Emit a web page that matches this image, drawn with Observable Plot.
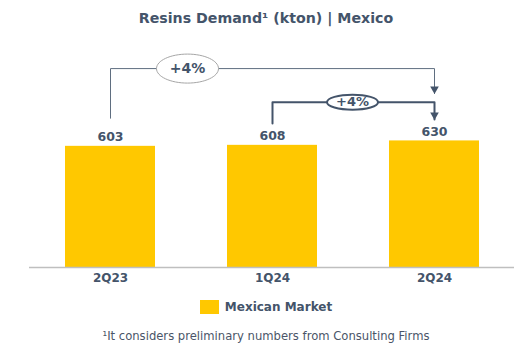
<!DOCTYPE html>
<html><head><meta charset="utf-8">
<script src="https://cdn.jsdelivr.net/npm/d3@7"></script>
<script src="https://cdn.jsdelivr.net/npm/@observablehq/plot@0.6"></script>
<style>
body{margin:0;background:#fff;width:532px;height:362px;position:relative;overflow:hidden;font-family:"DejaVu Sans",Verdana,sans-serif;color:#44546a}
#title{position:absolute;top:9px;left:0;width:532px;text-align:center;font-weight:bold;font-size:14.2px;line-height:18px}
#chart{position:absolute;top:30px;left:0}
#legend{position:absolute;top:299px;left:0;width:532px;display:flex;justify-content:center;align-items:center;font-weight:bold;font-size:12px;line-height:16px}
#legend .sw{width:19px;height:14px;background:#FFC800;margin-right:6px}
#note{position:absolute;top:327px;left:0;width:532px;text-align:center;font-size:11.6px;line-height:18px;color:#4a5568}
</style>
</head><body>
<div id="title">Resins Demand¹ (kton) | Mexico</div>
<div id="chart"></div>
<div id="legend"></div>
<div id="note">¹It considers preliminary numbers from Consulting Firms</div>
<script>
// Data
const categories = ["2Q23", "1Q24", "2Q24"];
const values = [603, 608, 630];
const seriesName = "Mexican Market";
// Growth annotations (from -> to), labels, and bracket heights in kton units
const changeFrom = ["2Q23", "1Q24"];
const changeTo = ["2Q24", "2Q24"];
const changeLabels = ["+4%", "+4%"];
const bracketStart = [743, 717];
const bracketLevel = [990, 823];
const bracketTip = [866, 737];

const data = categories.map((c, i) => ({cat: c, value: values[i]}));

function ellipse(rx, ry) {
  const k = 0.5523;
  return {draw(ctx) {
    ctx.moveTo(rx, 0);
    ctx.bezierCurveTo(rx, ry * k, rx * k, ry, 0, ry);
    ctx.bezierCurveTo(-rx * k, ry, -rx, ry * k, -rx, 0);
    ctx.bezierCurveTo(-rx, -ry * k, -rx * k, -ry, 0, -ry);
    ctx.bezierCurveTo(rx * k, -ry, rx, -ry * k, rx, 0);
    ctx.closePath();
  }};
}

const paths = changeFrom.map((f, i) => [
  {x: f, y: bracketStart[i]},
  {x: f, y: bracketLevel[i]},
  {x: changeTo[i], y: bracketLevel[i]},
  {x: changeTo[i], y: bracketTip[i]}
]);
const lineStyles = [
  {stroke: "#5f6e80", strokeWidth: 1},
  {stroke: "#44546a", strokeWidth: 2}
];
const ellStyles = [
  {sym: ellipse(31, 14.5), stroke: "#a6a6a6", strokeWidth: 1, dx: 77, fs: 14},
  {sym: ellipse(25.5, 7.5), stroke: "#44546a", strokeWidth: 2, dx: 80, fs: 13}
];

const marks = [
  Plot.barY(data, {x: "cat", y: "value", fill: "#FFC800"}),
  Plot.ruleY([0], {stroke: "#bfbfbf", strokeWidth: 1.5}),
  Plot.text(data, {x: "cat", y: "value", text: d => String(d.value), dy: -9, fill: "#44546a", fontSize: 12.5})
];
paths.forEach((p, i) => {
  marks.push(Plot.line(p, {x: "x", y: "y", ...lineStyles[i]}));
  marks.push(Plot.dot([p[3]], {x: "x", y: "y", symbol: "triangle", r: 3.2, rotate: 180, fill: "#44546a", stroke: "none", dy: -4.5}));
  const e = ellStyles[i];
  const pos = [{x: changeFrom[i], y: bracketLevel[i], label: changeLabels[i]}];
  marks.push(Plot.dot(pos, {x: "x", y: "y", symbol: e.sym, r: 10, fill: "white", stroke: e.stroke, strokeWidth: e.strokeWidth, dx: e.dx}));
  marks.push(Plot.text(pos, {x: "x", y: "y", text: "label", dx: e.dx, fill: "#44546a", fontSize: e.fs}));
});

const chart = Plot.plot({
  width: 532,
  height: 265,
  marginLeft: 29,
  marginRight: 18,
  marginTop: 20,
  marginBottom: 28,
  style: {fontFamily: "'DejaVu Sans', Verdana, sans-serif", fontWeight: "bold", fontSize: "12px", color: "#44546a", background: "white", overflow: "visible"},
  x: {type: "band", domain: categories, paddingInner: 0.446, paddingOuter: 0.215, tickSize: 0, tickPadding: 6, label: null},
  y: {domain: [0, 1080], axis: null},
  marks
});
document.getElementById("chart").appendChild(chart);

const lg = document.getElementById("legend");
const sw = document.createElement("div"); sw.className = "sw"; lg.appendChild(sw);
const lt = document.createElement("span"); lt.textContent = seriesName; lg.appendChild(lt);
</script>
</body></html>
